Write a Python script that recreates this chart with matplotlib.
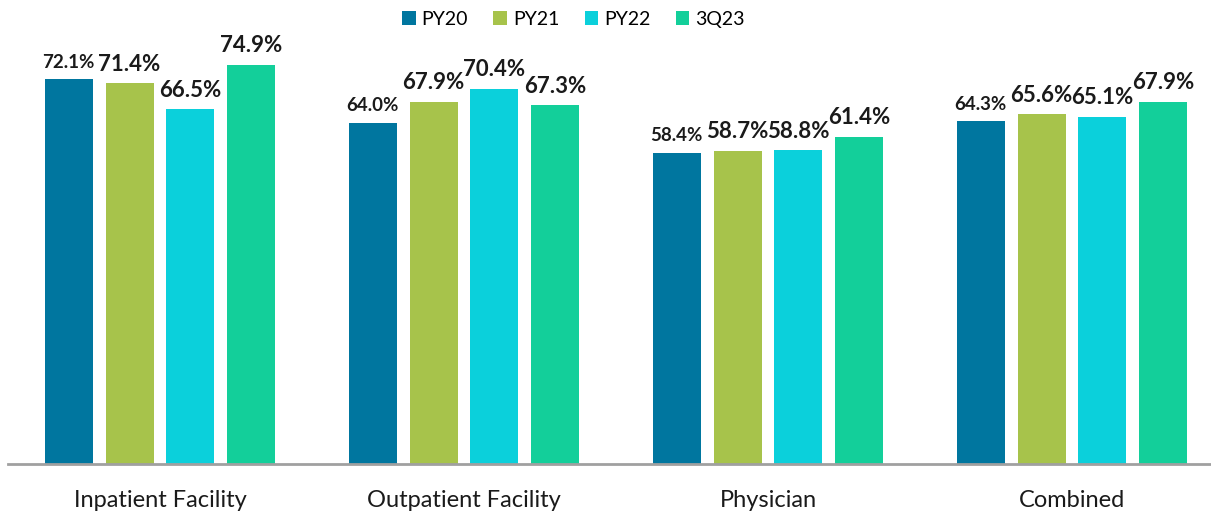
import numpy as np
import matplotlib.pyplot as plt

categories = ['Inpatient Facility', 'Outpatient Facility', 'Physician', 'Combined']
series = ['PY20', 'PY21', 'PY22', '3Q23']
py20 = [72.1, 64.0, 58.4, 64.3]
py21 = [71.4, 67.9, 58.7, 65.6]
py22 = [66.5, 70.4, 58.8, 65.1]
q323 = [74.9, 67.3, 61.4, 67.9]
colors = ['#00769f', '#a7c34b', '#0bd0db', '#13cf9a']

plt.rcParams['font.family'] = ['Lato', 'DejaVu Sans']

fig = plt.figure(figsize=(12.11, 5.14), dpi=100)
ax = fig.add_axes([8 / 1211, 50 / 514, 1 - 8 / 1211, 464 / 514])

x = np.arange(len(categories))
width = 0.158
pitch = 0.2
values = [py20, py21, py22, q323]
for i, (name, vals) in enumerate(zip(series, values)):
    pos = x + (i - 1.5) * pitch
    bars = ax.bar(pos, vals, width, color=colors[i], label=name)
    for b, v in zip(bars, vals):
        size = 13.5 if i == 0 else 16
        ax.text(b.get_x() + b.get_width() / 2, v + 1.6, f'{v:.1f}%',
                ha='center', va='bottom', fontsize=size, fontweight='bold', color='#1a1a1a')

ax.set_xlim(-0.5, 3.457)
ax.set_ylim(0, 87)
ax.set_yticks([])
ax.set_xticks(x)
ax.set_xticklabels(categories, fontsize=17, color='#1a1a1a')
ax.tick_params(axis='x', length=0, pad=19)
for s in ['top', 'right', 'left']:
    ax.spines[s].set_visible(False)
ax.spines['bottom'].set_color('#a0a0a0')
ax.spines['bottom'].set_linewidth(2)

ax.legend(loc='upper center', bbox_to_anchor=(0.47, 1.015), ncol=4, frameon=False,
          fontsize=14, handlelength=0.7, handleheight=0.7, handletextpad=0.3, columnspacing=1.3)

fig.savefig('out.png', dpi=100)
